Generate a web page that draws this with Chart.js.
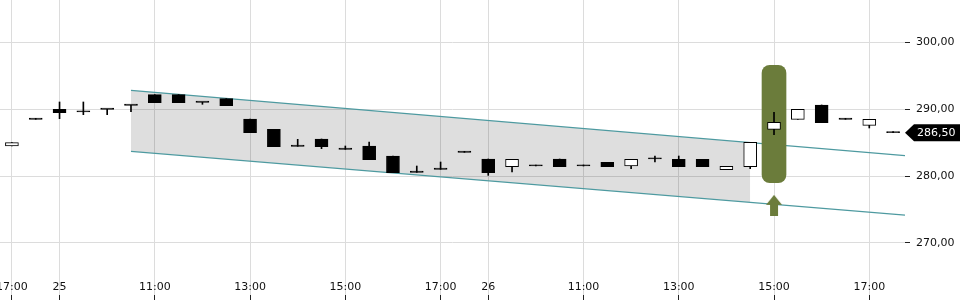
<!DOCTYPE html>
<html>
<head>
<meta charset="utf-8">
<script src="https://cdn.jsdelivr.net/npm/chart.js@4/dist/chart.umd.min.js"></script>
<style>
  html, body { margin: 0; padding: 0; background: #fff; }
  #wrap { width: 960px; height: 300px; position: relative; }
</style>
</head>
<body>
<div id="wrap"><canvas id="chart"></canvas></div>
<script>
// 30 minute slots (day 24 close, day 25, day 26)
const slotTimes = [
  '24 17:00', '24 17:30',
  '25 09:00', '25 09:30', '25 10:00', '25 10:30', '25 11:00', '25 11:30', '25 12:00', '25 12:30', '25 13:00',
  '25 13:30', '25 14:00', '25 14:30', '25 15:00', '25 15:30', '25 16:00', '25 16:30', '25 17:00', '25 17:30',
  '26 09:00', '26 09:30', '26 10:00', '26 10:30', '26 11:00', '26 11:30', '26 12:00', '26 12:30', '26 13:00',
  '26 13:30', '26 14:00', '26 14:30', '26 15:00', '26 15:30', '26 16:00', '26 16:30', '26 17:00', '26 17:30'
];

const openVals  = [284.5, 288.5, 290.0, 289.6, 290.0, 290.6, 292.2, 292.2, 291.05, 291.6, 288.55, 287.0, 284.45, 285.55, 284.0, 284.5, 283.0, 280.55, 281.0, 283.55,
                   282.55, 281.4, 281.5, 282.55, 281.5, 282.05, 281.5, 282.55, 282.5, 282.5, 280.95, 281.4, 287.0, 288.5, 290.65, 288.5, 287.6, 286.5];
const highVals  = [285.0, 288.5, 291.1, 291.1, 290.0, 290.6, 292.2, 292.2, 291.05, 291.6, 288.55, 287.0, 285.5, 285.55, 284.5, 285.1, 283.0, 281.5, 282.1, 283.55,
                   282.55, 282.5, 281.5, 282.55, 281.5, 282.05, 282.5, 283.0, 283.0, 282.5, 281.45, 285.05, 289.55, 290.0, 290.65, 288.5, 288.5, 286.5];
const lowVals   = [284.5, 288.5, 288.6, 289.2, 289.2, 289.65, 291.0, 291.0, 290.75, 290.55, 286.5, 284.4, 284.45, 284.1, 284.0, 282.45, 280.5, 280.55, 281.0, 283.55,
                   280.1, 280.6, 281.5, 281.4, 281.5, 281.4, 281.1, 282.1, 281.4, 281.4, 280.95, 281.1, 286.2, 288.5, 288.0, 288.5, 287.2, 286.5];
const closeVals = [285.0, 288.5, 289.5, 289.6, 290.0, 290.6, 291.0, 291.0, 291.05, 290.55, 286.5, 284.4, 284.45, 284.4, 284.0, 282.45, 280.5, 280.55, 281.0, 283.55,
                   280.5, 282.5, 281.5, 281.4, 281.5, 281.4, 282.5, 282.55, 281.4, 281.4, 281.45, 285.05, 288.05, 290.0, 288.0, 288.5, 288.5, 286.5];

// x axis labels
const tickIndex = [0, 2, 6, 10, 14, 18, 20, 24, 28, 32, 36];
const tickText  = ['17:00', '25', '11:00', '13:00', '15:00', '17:00', '26', '11:00', '13:00', '15:00', '17:00'];
// y axis labels
const yTicks = [270, 280, 290, 300];

// trend channel
const channelX     = [5, 37.5];
const channelUpper = [292.85, 283.05];
const channelLower = [283.7, 274.15];
const shadeX       = [5, 31];
const shadeUpper   = [292.85, 285.0];
const shadeLower   = [283.7, 276.06];

// signal marker
const signalIndex = 32;
const signalRange = [279.0, 296.6];
const arrowValue  = 275.6;
const lastPrice   = 286.5;

const OLIVE = '#6b7c3b';
const TEAL = '#4e9aa0';
const FONT = { family: 'DejaVu Sans', size: 11 };

// little up arrow used as point style
const arrowIcon = document.createElement('canvas');
arrowIcon.width = 16;
arrowIcon.height = 21;
(() => {
  const c = arrowIcon.getContext('2d');
  c.fillStyle = OLIVE;
  c.beginPath();
  c.moveTo(8, 0); c.lineTo(16, 10); c.lineTo(12, 10); c.lineTo(12, 21);
  c.lineTo(4, 21); c.lineTo(4, 10); c.lineTo(0, 10);
  c.closePath();
  c.fill();
})();

const fmt = v => v.toFixed(2).replace('.', ',');

const priceTag = {
  id: 'priceTag',
  afterDraw(chart) {
    const ctx = chart.ctx;
    const y = chart.scales.y.getPixelForValue(lastPrice);
    const x0 = chart.chartArea.right;
    ctx.save();
    ctx.fillStyle = '#000';
    ctx.beginPath();
    ctx.moveTo(x0, y);
    ctx.lineTo(x0 + 9, y - 8.5);
    ctx.lineTo(chart.width, y - 8.5);
    ctx.lineTo(chart.width, y + 8.5);
    ctx.lineTo(x0 + 9, y + 8.5);
    ctx.closePath();
    ctx.fill();
    ctx.fillStyle = '#fff';
    ctx.font = '11px "DejaVu Sans"';
    ctx.textBaseline = 'middle';
    ctx.fillText(fmt(lastPrice), x0 + 12, y + 0.5);
    ctx.restore();
  }
};

const idx = slotTimes.map((t, i) => i);

new Chart(document.getElementById('chart'), {
  type: 'bar',
  data: {
    datasets: [
      {
        type: 'line',
        data: shadeX.map((x, i) => ({ x: x, y: shadeUpper[i] })),
        borderWidth: 0,
        pointRadius: 0,
        fill: '+1',
        backgroundColor: 'rgba(0,0,0,0.13)',
        order: 50
      },
      {
        type: 'line',
        data: shadeX.map((x, i) => ({ x: x, y: shadeLower[i] })),
        borderWidth: 0,
        pointRadius: 0,
        fill: false,
        order: 51
      },
      {
        type: 'line',
        data: channelX.map((x, i) => ({ x: x, y: channelUpper[i] })),
        borderColor: TEAL,
        borderWidth: 1.3,
        pointRadius: 0,
        fill: false,
        order: 40
      },
      {
        type: 'line',
        data: channelX.map((x, i) => ({ x: x, y: channelLower[i] })),
        borderColor: TEAL,
        borderWidth: 1.3,
        pointRadius: 0,
        fill: false,
        order: 40
      },
      {
        // signal highlight
        data: [{ x: signalIndex, y: signalRange }],
        backgroundColor: OLIVE,
        borderWidth: 0,
        borderRadius: 8,
        borderSkipped: false,
        barThickness: 24,
        grouped: false,
        order: 30
      },
      {
        type: 'scatter',
        data: [{ x: signalIndex, y: arrowValue }],
        pointStyle: arrowIcon,
        pointRadius: 10,
        order: 30
      },
      {
        // wicks
        data: idx.map(i => ({ x: i, y: [lowVals[i], highVals[i]] })),
        backgroundColor: '#000',
        borderWidth: 0,
        barThickness: 1,
        minBarLength: 1,
        grouped: false,
        order: 20
      },
      {
        // bodies
        data: idx.map(i => ({ x: i, y: [openVals[i], closeVals[i]] })),
        backgroundColor: ctx => closeVals[ctx.dataIndex] > openVals[ctx.dataIndex] ? '#fff' : '#000',
        borderColor: '#000',
        borderWidth: 1,
        borderSkipped: false,
        barThickness: 13,
        minBarLength: 1.2,
        grouped: false,
        order: 10
      }
    ]
  },
  options: {
    responsive: true,
    maintainAspectRatio: false,
    animation: false,
    layout: { padding: 0, autoPadding: false },
    plugins: {
      legend: { display: false },
      tooltip: { enabled: false }
    },
    scales: {
      x: {
        type: 'linear',
        min: -0.5,
        max: 37.5,
        offset: false,
        afterBuildTicks: s => { s.ticks = tickIndex.map(v => ({ value: v })); },
        afterFit: s => { s.height = 5; s.paddingLeft = 0; s.paddingRight = 0; },
        border: { display: false },
        grid: { offset: false, color: '#dcdcdc', tickColor: '#222', tickLength: 5 },
        ticks: {
          autoSkip: false,
          maxRotation: 0,
          mirror: true,
          padding: 1,
          color: '#111',
          font: FONT,
          callback: v => tickText[tickIndex.indexOf(v)]
        }
      },
      y: {
        position: 'right',
        min: 262.16,
        max: 306.39,
        afterBuildTicks: s => { s.ticks = yTicks.map(v => ({ value: v })); },
        afterFit: s => { s.width = 55; s.paddingTop = 0; s.paddingBottom = 0; },
        border: { display: false },
        grid: { color: '#dcdcdc', tickColor: '#222', tickLength: 5 },
        ticks: {
          padding: 6,
          color: '#111',
          font: FONT,
          callback: v => fmt(v)
        }
      }
    }
  },
  plugins: [priceTag]
});
</script>
</body>
</html>
